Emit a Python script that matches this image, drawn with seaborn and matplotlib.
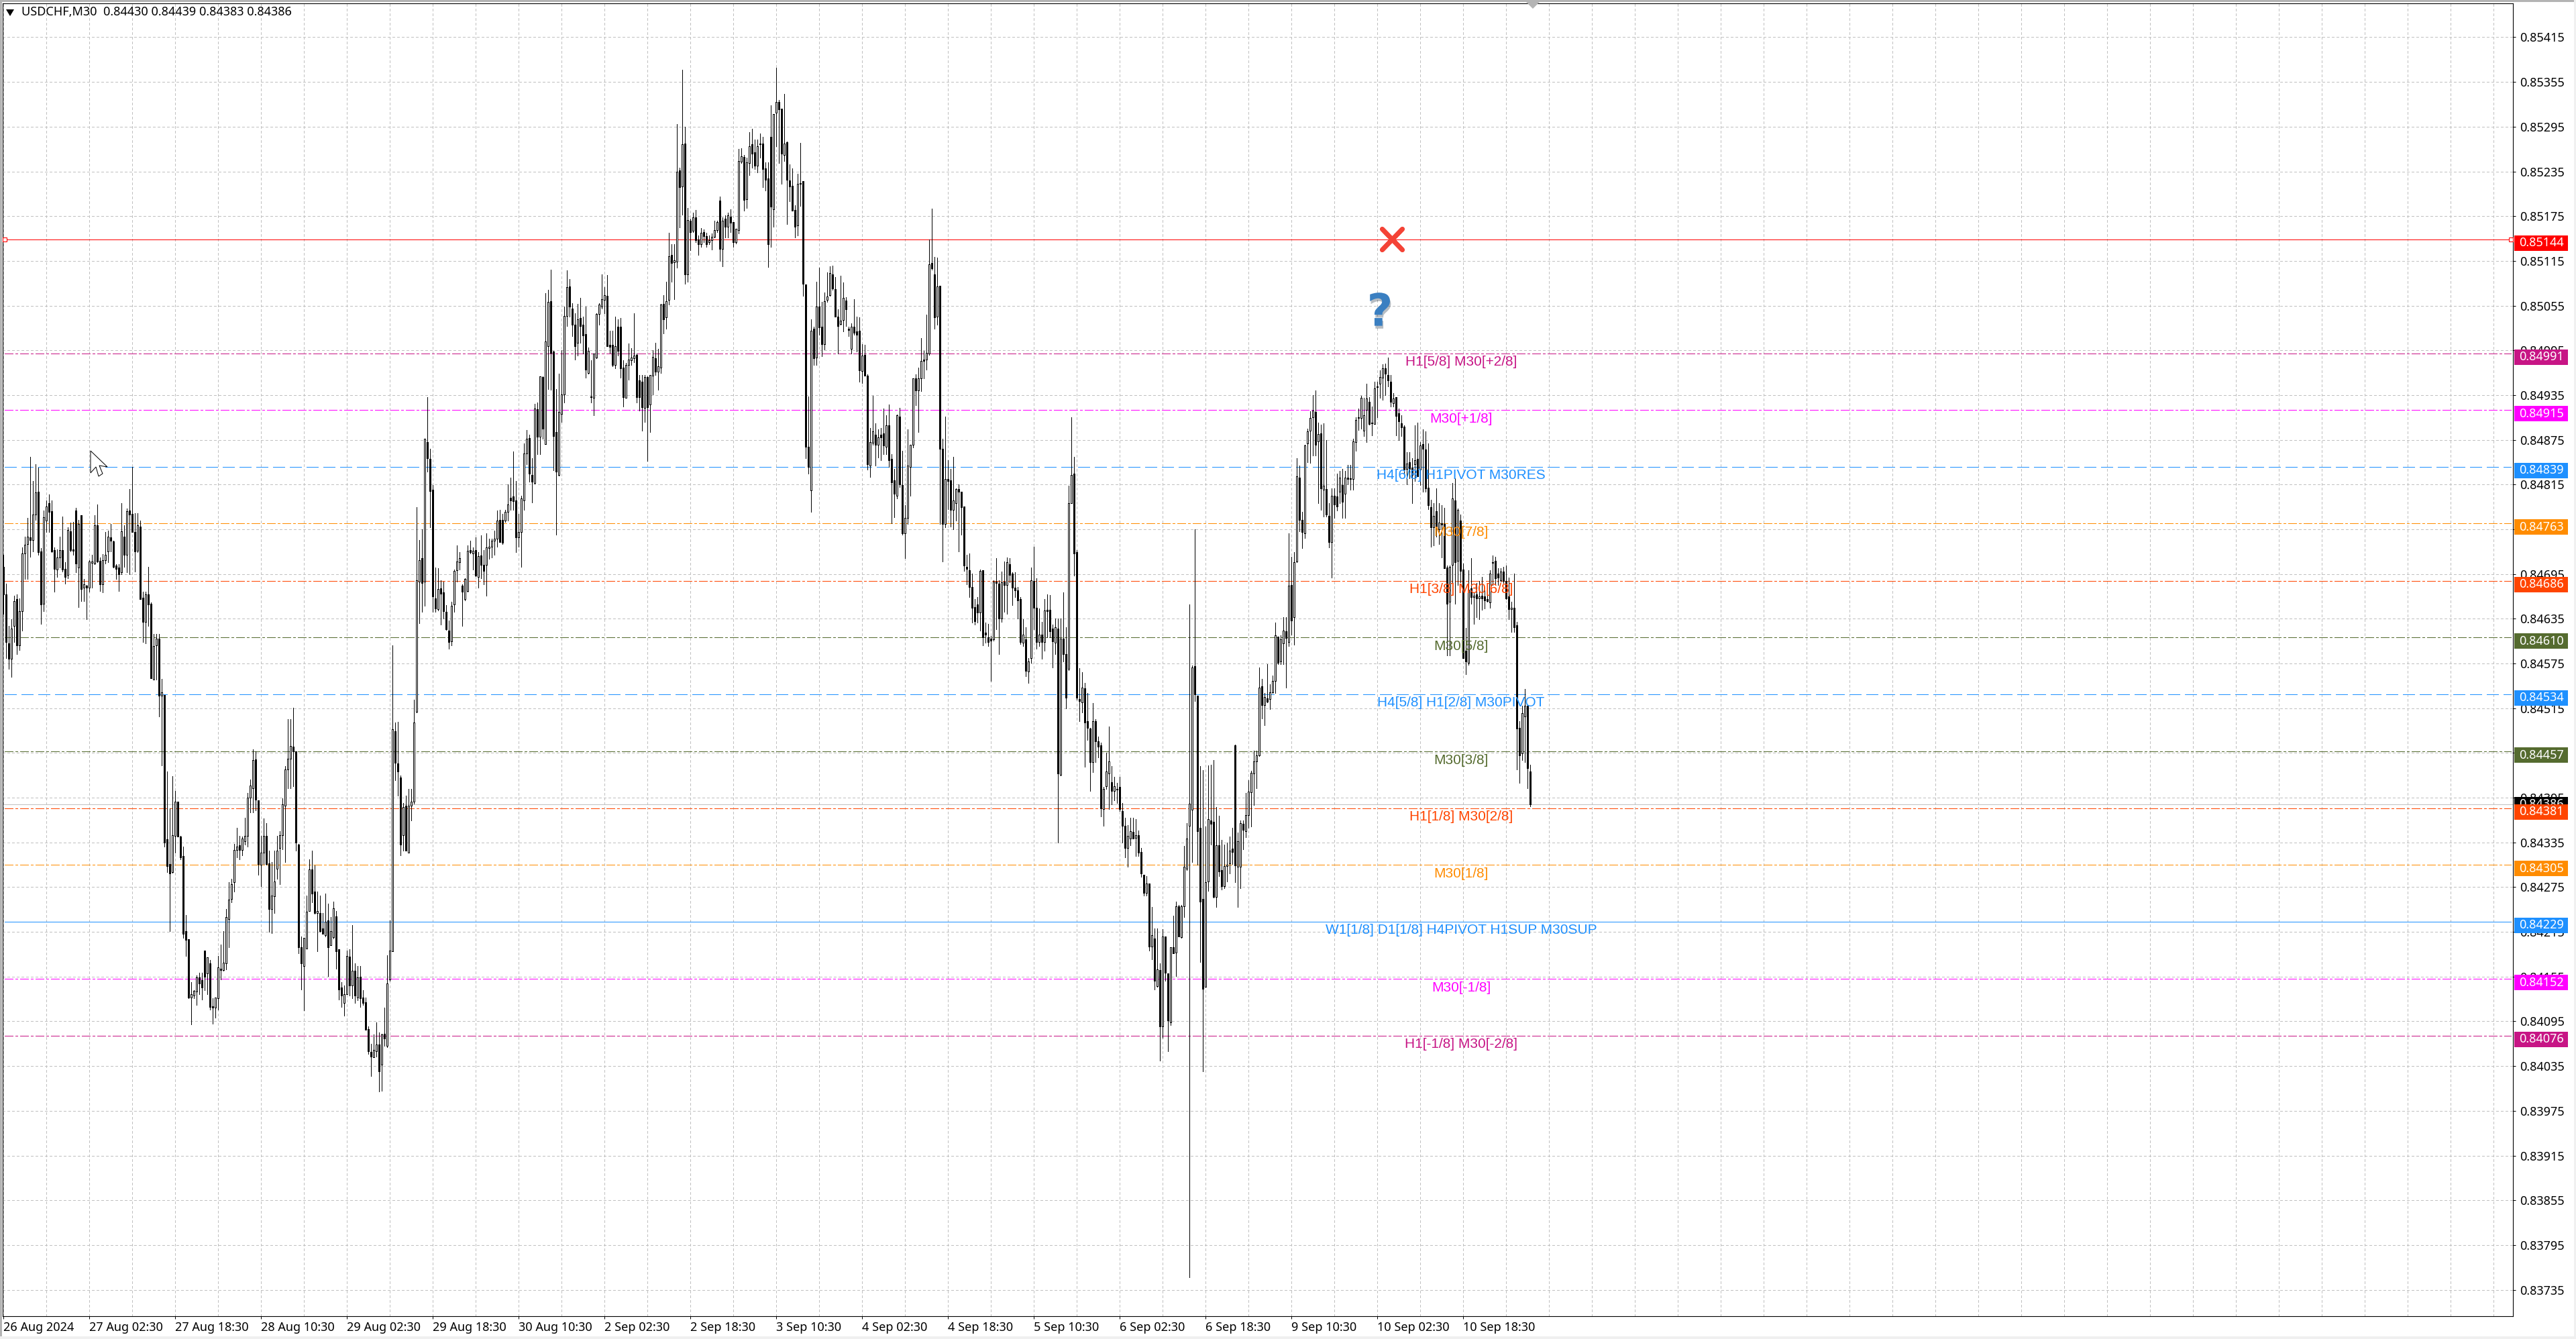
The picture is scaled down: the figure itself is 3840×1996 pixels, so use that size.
import numpy as np
import pandas as pd
import seaborn as sns
import matplotlib
matplotlib.use("Agg")
import matplotlib.pyplot as plt
from matplotlib.patches import Rectangle, Polygon
from matplotlib.markers import MarkerStyle
from matplotlib.transforms import IdentityTransform
import matplotlib.patheffects as pe

# candle values, points above 0.84000
opens = [705,668,602,581,625,661,599,645,723,735,
744,741,775,805,725,655,767,790,779,727,
701,717,727,702,694,752,728,780,704,774,
677,679,677,710,709,760,713,681,714,725,
744,739,706,704,697,745,721,780,776,751,
726,759,663,631,668,655,553,599,608,532,
533,339,306,295,344,390,343,317,216,205,
127,130,135,154,150,190,159,173,115,113,
126,166,164,173,232,259,282,325,331,325,
337,344,395,408,446,391,305,321,344,307,
246,263,300,328,345,384,433,447,463,457,
332,194,169,193,243,299,269,240,240,220,
211,230,197,208,236,192,140,120,131,182,
143,163,127,155,127,121,85,54,47,55,
64,37,78,62,151,189,484,441,422,345,
384,321,384,390,510,685,716,685,872,849,
808,662,648,676,670,644,619,605,654,700,
711,679,661,672,727,723,727,691,720,707,
707,730,732,740,742,768,768,767,778,797,
799,794,744,751,794,857,877,828,817,916,
879,959,869,1001,1061,993,885,828,910,936,
1041,1081,1051,1029,1005,1038,1029,1017,965,933,
931,985,1044,1054,1063,1068,1002,1002,975,1027,
1027,972,931,975,982,984,989,955,953,918,
959,922,961,984,966,972,1057,1039,1063,1123,
1113,1114,1236,1215,1272,1097,1169,1155,1173,1144,
1137,1154,1148,1140,1143,1147,1156,1196,1131,1172,
1161,1174,1167,1140,1156,1248,1254,1198,1246,1271,
1261,1243,1272,1272,1239,1226,1281,1184,1314,1328,
1319,1257,1274,1223,1216,1183,1163,1218,1222,1083,
866,807,1024,985,1054,1027,1003,1063,1069,1097,
1077,1040,1030,1036,1062,1024,997,1027,1020,1021,
967,989,961,840,871,882,868,882,884,866,
894,849,821,800,906,814,750,770,839,868,
957,941,957,983,983,991,1112,1097,1040,1082,
863,762,822,821,781,790,809,805,786,705,
700,678,651,654,643,700,616,610,608,607,
685,682,635,685,680,708,696,677,673,661,
603,607,564,582,686,650,604,614,604,647,
647,622,603,622,426,608,588,568,790,830,
724,527,523,542,498,488,443,498,471,465,
380,410,427,416,404,407,409,377,357,328,
340,349,341,345,322,292,267,280,195,206,
142,164,88,209,159,94,194,187,249,208,
249,300,357,379,571,532,355,259,141,283,
364,363,262,331,298,276,303,307,327,465,
302,302,360,350,372,402,427,444,452,544,
519,528,527,536,552,611,578,602,618,604,
680,637,712,824,768,750,870,887,905,912,
873,884,808,809,773,738,800,799,805,814,
803,824,823,822,872,905,904,887,915,926,
898,896,947,950,958,971,962,953,924,932,
911,897,893,836,845,838,842,849,835,869,
862,811,785,758,779,755,763,762,704,658,
707,794,713,767,701,592,576,676,664,668,
662,666,665,661,657,711,713,696,687,698,
686,665,648,650,626,489,454,504,518,430]

closes = [668,604,581,622,659,599,645,723,734,745,
741,775,804,724,654,771,786,778,725,702,
717,727,701,691,754,727,726,709,762,675,
681,677,712,712,760,712,681,714,721,745,
740,705,702,695,752,721,779,775,751,725,
760,661,631,668,654,555,598,608,532,536,
335,303,293,345,390,343,315,212,204,127,
131,136,154,146,140,155,181,114,113,127,
167,164,174,235,258,279,325,329,325,340,
344,395,411,445,392,306,321,344,306,246,
264,283,324,345,386,433,447,464,457,335,
194,173,207,242,299,266,240,243,216,212,
229,194,216,247,189,138,130,131,183,143,
163,130,154,126,120,84,55,48,57,64,
28,77,72,146,190,487,442,430,332,382,
324,384,390,496,687,714,683,876,850,806,
665,649,675,669,645,621,604,652,699,712,
716,671,688,726,724,726,693,719,707,699,
731,732,740,742,767,738,737,778,788,794,
793,744,751,796,857,876,830,819,917,879,
960,890,1007,1060,992,880,832,912,936,1041,
1080,1054,1029,1001,1037,1028,1015,969,994,932,
991,1044,1056,1064,1069,1001,1000,975,1001,994,
971,932,975,983,985,988,932,932,919,959,
919,962,986,966,974,1056,1037,1061,1121,1112,
1116,1235,1214,1271,1097,1170,1154,1173,1143,1137,
1153,1148,1137,1143,1147,1156,1167,1131,1169,1161,
1176,1166,1140,1158,1249,1255,1197,1247,1269,1259,
1243,1269,1271,1238,1224,1137,1188,1312,1328,1318,
1259,1272,1224,1215,1182,1161,1218,1219,1084,866,
839,1021,984,1054,1026,1003,1061,1067,1099,1078,
1040,1028,1035,1065,1050,1022,1027,1019,1016,968,
988,961,842,872,886,868,878,878,867,894,
848,818,803,908,815,750,770,840,868,957,
941,957,981,981,992,1110,1105,1039,1081,863,
762,822,820,781,794,809,805,785,706,702,
678,650,632,643,699,610,614,604,606,685,
683,635,684,680,711,694,677,673,660,604,
614,565,578,687,650,604,614,604,646,645,
618,605,624,427,608,588,529,790,828,723,
529,525,543,496,489,443,498,471,463,381,
407,430,444,404,410,406,380,357,328,344,
350,340,345,321,293,267,280,195,211,149,
165,88,209,160,96,194,186,249,209,249,
302,340,387,570,534,350,256,139,282,366,
360,262,331,296,276,303,305,324,322,304,
337,361,352,372,403,428,444,452,543,519,
530,524,536,552,613,576,607,619,609,679,
633,711,826,768,751,867,886,904,914,868,
883,810,813,775,738,800,788,786,824,792,
824,822,822,873,902,904,931,908,930,896,
897,944,946,959,971,964,955,926,930,907,
900,892,835,843,836,828,848,826,867,863,
810,787,758,773,758,764,761,703,655,705,
796,711,781,699,582,578,674,664,666,662,
665,662,660,659,696,710,689,690,698,686,
662,648,650,624,488,452,508,518,435,386]

highs = [721,682,625,634,666,668,662,731,745,770,
852,820,842,838,730,780,794,802,794,731,
728,745,772,711,758,764,765,784,768,774,
688,680,714,721,774,788,717,722,751,753,
762,740,708,708,790,760,783,809,839,777,
777,767,671,671,705,657,615,615,615,554,
533,430,381,424,404,390,344,329,238,205,
148,137,157,160,160,190,181,177,126,127,
183,198,216,246,282,286,333,355,344,343,
368,401,419,460,457,391,344,367,361,324,
309,324,344,350,394,437,500,500,516,457,
333,209,207,264,312,324,304,269,264,240,
266,253,235,256,243,192,148,143,190,192,
224,173,169,169,137,127,88,65,77,94,
80,78,113,184,230,599,496,497,425,388,
398,407,407,526,785,741,755,876,932,863,
814,704,703,687,685,653,633,658,701,733,
724,681,689,733,740,731,744,724,747,727,
750,742,742,753,780,781,776,781,815,824,
859,820,776,800,870,888,882,850,923,925,
960,960,1072,1076,1103,994,943,964,995,1054,
1102,1091,1058,1045,1057,1065,1040,1054,999,982,
991,1045,1058,1097,1080,1096,1021,1021,1040,1037,
1038,982,978,1004,998,1045,991,962,962,962,
960,962,995,1005,997,1057,1069,1087,1153,1137,
1137,1298,1240,1371,1295,1186,1172,1180,1183,1149,
1159,1157,1153,1149,1152,1169,1169,1201,1173,1176,
1180,1184,1167,1158,1265,1266,1257,1253,1288,1292,
1278,1278,1286,1281,1247,1247,1324,1312,1374,1331,
1319,1339,1275,1244,1239,1190,1232,1273,1222,1083,
933,1037,1027,1087,1106,1060,1073,1100,1108,1109,
1093,1050,1095,1086,1066,1027,1031,1064,1040,1039,
1003,1002,963,891,934,897,889,891,917,908,
922,856,836,909,918,860,787,889,868,957,
963,972,1011,994,1043,1144,1185,1120,1119,1082,
876,906,848,836,852,810,815,805,786,721,
723,696,661,664,701,700,630,628,612,687,
716,687,698,712,717,716,697,697,678,664,
634,624,582,704,732,689,649,631,661,668,
667,627,635,635,635,670,624,813,905,852,
727,569,563,549,535,489,522,500,477,469,
409,455,490,437,423,415,423,388,368,358,
368,368,366,351,328,292,290,280,248,220,
220,173,219,209,159,194,237,256,251,251,
330,361,654,572,755,532,437,432,356,438,
439,445,382,371,338,332,335,343,355,466,
348,364,364,401,418,431,458,458,570,554,
535,574,547,559,630,611,613,637,637,750,
718,724,850,840,778,868,890,913,935,941,
898,895,897,875,790,810,810,830,833,836,
833,841,841,876,905,917,934,931,950,932,
920,953,953,968,976,977,985,962,938,932,
917,908,894,858,858,850,894,898,872,889,
886,870,795,790,810,790,787,784,706,706,
817,823,783,775,709,623,700,716,670,683,
686,691,673,676,700,720,718,703,703,705,
706,690,658,696,631,498,518,541,519,439]

lows = [642,582,568,557,604,588,593,619,688,688,
718,725,768,721,628,645,751,751,724,671,
691,704,698,682,689,725,721,697,651,659,
659,634,671,677,708,711,672,670,709,711,
725,704,688,672,695,705,697,695,751,698,
724,661,604,602,625,555,553,553,504,438,
329,295,216,294,321,343,312,207,183,126,
91,126,117,131,124,137,131,111,92,100,
111,151,163,165,194,255,269,315,312,318,
332,329,375,375,378,292,276,306,305,215,
213,240,286,279,326,309,408,408,410,324,
186,138,110,193,243,255,239,189,215,212,
209,156,197,206,166,124,114,103,131,130,
126,120,123,114,117,84,51,22,47,48,
1,2,62,60,149,189,418,398,318,324,
324,321,364,387,509,629,644,652,832,758,
644,644,646,627,635,620,595,599,644,685,
701,625,660,671,723,701,692,677,689,681,
666,715,717,721,732,738,735,765,767,781,
781,724,732,705,781,842,819,791,816,856,
856,876,869,943,942,834,748,827,899,925,
1028,1040,1014,983,988,1005,991,958,964,925,
908,984,1029,1051,1045,1001,992,974,971,988,
958,920,931,956,975,979,925,914,887,899,
847,885,936,962,942,965,1018,1024,1056,1087,
1064,1106,1160,1177,1084,1087,1129,1154,1140,1123,
1134,1140,1134,1137,1130,1146,1154,1115,1108,1146,
1146,1154,1134,1138,1152,1246,1182,1186,1230,1240,
1238,1234,1253,1214,1209,1107,1134,1161,1269,1246,
1218,1249,1164,1195,1182,1146,1149,1189,1068,850,
830,778,975,975,1016,987,996,1060,1068,1076,
1040,991,1029,1020,1028,1014,991,1016,993,953,
951,961,835,825,868,840,851,848,856,856,
839,763,771,796,812,748,716,762,800,865,
921,885,940,957,969,989,1103,1024,1029,762,
712,758,782,759,755,767,725,748,699,681,
664,630,627,630,619,599,603,598,552,606,
621,588,631,644,642,684,653,664,635,601,
598,558,549,576,621,595,598,581,592,610,
610,570,588,335,425,578,515,566,790,693,
526,498,509,436,472,404,429,443,449,370,
357,407,380,386,391,388,377,335,315,302,
331,340,317,317,289,264,264,190,178,138,
141,42,73,149,55,90,186,156,209,207,
235,298,-248,309,525,305,175,28,141,270,
332,261,248,290,272,274,283,293,306,282,
248,274,326,342,355,356,385,408,451,501,
492,523,514,535,535,574,574,574,543,598,
614,600,711,752,730,743,845,844,854,854,
790,781,772,772,731,690,770,780,790,770,
770,815,808,808,860,888,890,880,872,895,
881,896,905,931,929,935,947,920,920,881,
875,880,830,815,823,790,820,826,814,805,
805,782,732,733,745,735,717,703,586,586,
682,655,680,684,582,561,573,655,628,637,
634,647,649,658,650,680,680,680,685,683,
661,634,617,617,433,415,445,443,408,383]

time_labels = ["26 Aug 2024","27 Aug 02:30","27 Aug 18:30","28 Aug 10:30","29 Aug 02:30",
               "29 Aug 18:30","30 Aug 10:30","2 Sep 02:30","2 Sep 18:30","3 Sep 10:30",
               "4 Sep 02:30","4 Sep 18:30","5 Sep 10:30","6 Sep 02:30","6 Sep 18:30",
               "9 Sep 10:30","10 Sep 02:30","10 Sep 18:30"]

level_prices = [0.85144,0.84991,0.84915,0.84839,0.84763,0.84686,0.84610,0.84534,0.84457,0.84381,0.84305,0.84229,0.84152,0.84076]
level_names = ["","H1[5/8] M30[+2/8]","M30[+1/8]","H4[6/8] H1PIVOT M30RES","M30[7/8]","H1[3/8] M30[6/8]",
               "M30[5/8]","H4[5/8] H1[2/8] M30PIVOT","M30[3/8]","H1[1/8] M30[2/8]","M30[1/8]",
               "W1[1/8] D1[1/8] H4PIVOT H1SUP M30SUP","M30[-1/8]","H1[-1/8] M30[-2/8]"]
level_colors = ["#ff0000","#c71585","#ff00ff","#1e90ff","#ff8c00","#ff4500","#556b2f","#1e90ff",
                "#556b2f","#ff4500","#ff8c00","#1e90ff","#ff00ff","#c71585"]
level_kinds = ["solid","dd","dd","dash","dd","dd","dd","dash","dd","dd","dd","solid","dd","dd"]
bid_price = 0.84386
price_ticks = np.arange(83735, 85416, 60) / 1e5

W, H = 3840, 1996
PX = 0.72  # points per pixel at dpi 100

sns.set_theme(style="white")
plt.rcParams["lines.scale_dashes"] = False
plt.rcParams["font.family"] = ["Noto Sans", "DejaVu Sans"]

fig = plt.figure(figsize=(W / 100, H / 100), dpi=100, facecolor="white")
ax = fig.add_axes([4 / W, 1 - 1962 / H, (3746 - 4) / W, (1962 - 5) / H])
ax.set_facecolor("white")
ax.set_xlim(-0.25, 935.25)
ax.set_ylim(0.836995, 0.854604)

o = 0.84 + np.array(opens) / 1e5
c = 0.84 + np.array(closes) / 1e5
h = np.maximum.reduce([0.84 + np.array(highs) / 1e5, o, c])
l = np.minimum.reduce([0.84 + np.array(lows) / 1e5, o, c])
candles = pd.DataFrame({"i": np.arange(len(o)), "o": o, "h": h, "l": l, "c": c})

# grid
major = np.arange(0, 32 * len(time_labels), 32)
all_v = np.arange(0, 936, 16)
ax.set_xticks(major)
ax.set_xticklabels(time_labels, ha="left", fontsize=13, color="black")
ax.set_xticks([v for v in all_v if v not in major], minor=True)
ax.set_yticks(price_ticks)
ax.set_yticklabels([f"{p:.5f}" for p in price_ticks], fontsize=13, color="black")
ax.yaxis.tick_right()
ax.tick_params(axis="y", which="major", length=3, width=PX, pad=4, color="black", direction="out", right=True, left=False)
ax.tick_params(axis="x", which="major", length=3, width=PX, pad=3, color="black", direction="out", bottom=True)
ax.tick_params(axis="x", which="minor", length=0)
grid_kw = dict(color="#c0c0c0", linewidth=PX, linestyle=(0, (3 * PX, 3 * PX)), antialiased=False)
ax.grid(True, axis="both", which="major", **grid_kw)
ax.grid(True, axis="x", which="minor", **grid_kw)
ax.set_axisbelow(True)
for s in ax.spines.values():
    s.set_color("black")
    s.set_linewidth(0.8)
    s.set_visible(True)

# levels
styles = {"solid": "-", "dd": (0, (13 * PX, 4 * PX, 3 * PX, 4 * PX)), "dash": (0, (17 * PX, 7 * PX))}
for p, col, kind in zip(level_prices, level_colors, level_kinds):
    df = pd.DataFrame({"x": [0.5, 934.5], "y": [p, p]})
    sns.lineplot(data=df, x="x", y="y", ax=ax, color=col, linewidth=PX, linestyle=styles[kind],
                 errorbar=None, legend=False, zorder=2, antialiased=False)
bid_df = pd.DataFrame({"x": [0.0, 935.25], "y": [bid_price, bid_price]})
sns.lineplot(data=bid_df, x="x", y="y", ax=ax, color="#c0c0c0", linewidth=PX, errorbar=None,
             legend=False, zorder=2, antialiased=False)
ax.set_xlabel("")
ax.set_ylabel("")
ax.plot([0.5, 934.5], [level_prices[0]] * 2, ls="none", marker="s", ms=4.5, mfc="white", mec="#ff0000", mew=0.8, zorder=3)

# candles
ax.vlines(candles["i"], candles["l"], candles["h"], color="black", linewidth=PX, zorder=4, antialiased=False)
up = candles["c"] >= candles["o"]
bottoms = candles[["o", "c"]].min(axis=1)
heights = (candles["c"] - candles["o"]).abs()
ax.bar(candles["i"], heights, bottom=bottoms, width=0.5, color=np.where(up, "white", "black").tolist(),
       edgecolor="black", linewidth=PX, zorder=5, antialiased=False)

# level captions
cap_x = 543.25
for p, name, col in zip(level_prices, level_names, level_colors):
    if name:
        ax.annotate(name, xy=(cap_x, p), xytext=(0, -13), textcoords="offset pixels", ha="center", va="center",
                    fontsize=15, color=col, family="Liberation Sans", zorder=7)

# signal marks
ax.plot([517.5], [0.85144], ls="none", marker=MarkerStyle("x", capstyle="round"), ms=22, mew=5, mec="#f44336", zorder=8,
        path_effects=[pe.withStroke(linewidth=5, foreground="#f44336")])
ax.annotate("?", xy=(513, 0.85045), ha="center", va="center", fontsize=48, fontweight="bold", color="#3a7fc1",
            family="DejaVu Sans", zorder=8, path_effects=[pe.withSimplePatchShadow(offset=(1, -3), alpha=0.3)])

# price tags at the right
def ydisp(price):
    return ax.transData.transform((0, price))[1]

fig.canvas.draw()
order = sorted(zip(level_prices, level_colors), key=lambda t: -t[0])
y_bid = ydisp(bid_price)
fig.add_artist(Rectangle((3748, y_bid - 11.5), 80, 23, transform=IdentityTransform(), facecolor="#000000", edgecolor="none", zorder=9))
fig.text(3755, y_bid, f"{bid_price:.5f}", transform=IdentityTransform(), color="white", fontsize=13, va="center", ha="left", zorder=9.5)
for z, (p, col) in enumerate(order):
    y = ydisp(p)
    top = y + 6
    fig.add_artist(Rectangle((3748, top - 23), 80, 23, transform=IdentityTransform(), facecolor=col, edgecolor="none", zorder=10 + z * 2))
    fig.text(3755, top - 11.5, f"{p:.5f}", transform=IdentityTransform(), color="white", fontsize=13, va="center", ha="left", zorder=11 + z * 2)

# title, window frame and small marks
fig.text(32, H - 18, "USDCHF,M30  0.84430 0.84439 0.84383 0.84386", transform=IdentityTransform(), fontsize=13, color="black", va="center", ha="left", zorder=40)
fig.add_artist(Polygon([(9, H - 14), (21, H - 14), (15, H - 24)], transform=IdentityTransform(), facecolor="black", edgecolor="none", zorder=40))
fig.add_artist(Rectangle((0, H - 3), W, 3, transform=IdentityTransform(), facecolor="#b4b4b4", edgecolor="none", zorder=40))
fig.add_artist(Rectangle((0, 0), 3, H, transform=IdentityTransform(), facecolor="#b4b4b4", edgecolor="none", zorder=40))
fig.add_artist(Rectangle((W - 3, 0), 3, H, transform=IdentityTransform(), facecolor="#f0f0f0", edgecolor="none", zorder=40))
fig.add_artist(Rectangle((0, 0), W, 4, transform=IdentityTransform(), facecolor="#f0f0f0", edgecolor="none", zorder=40))
fig.add_artist(Polygon([(2275, H - 3), (2295, H - 3), (2285, H - 13)], transform=IdentityTransform(), facecolor="#b4b4b4", edgecolor="none", zorder=41))
arrow = [(135, 672), (135, 705), (143, 696), (147, 710), (153, 706), (148, 694), (160, 696)]
fig.add_artist(Polygon([(x, H - y) for x, y in arrow], transform=IdentityTransform(), facecolor="white", edgecolor="black", linewidth=PX, zorder=42))

assert len(opens) == len(closes) == len(highs) == len(lows), (len(opens), len(closes), len(highs), len(lows))
fig.savefig("out.png", dpi=100, facecolor="white")
